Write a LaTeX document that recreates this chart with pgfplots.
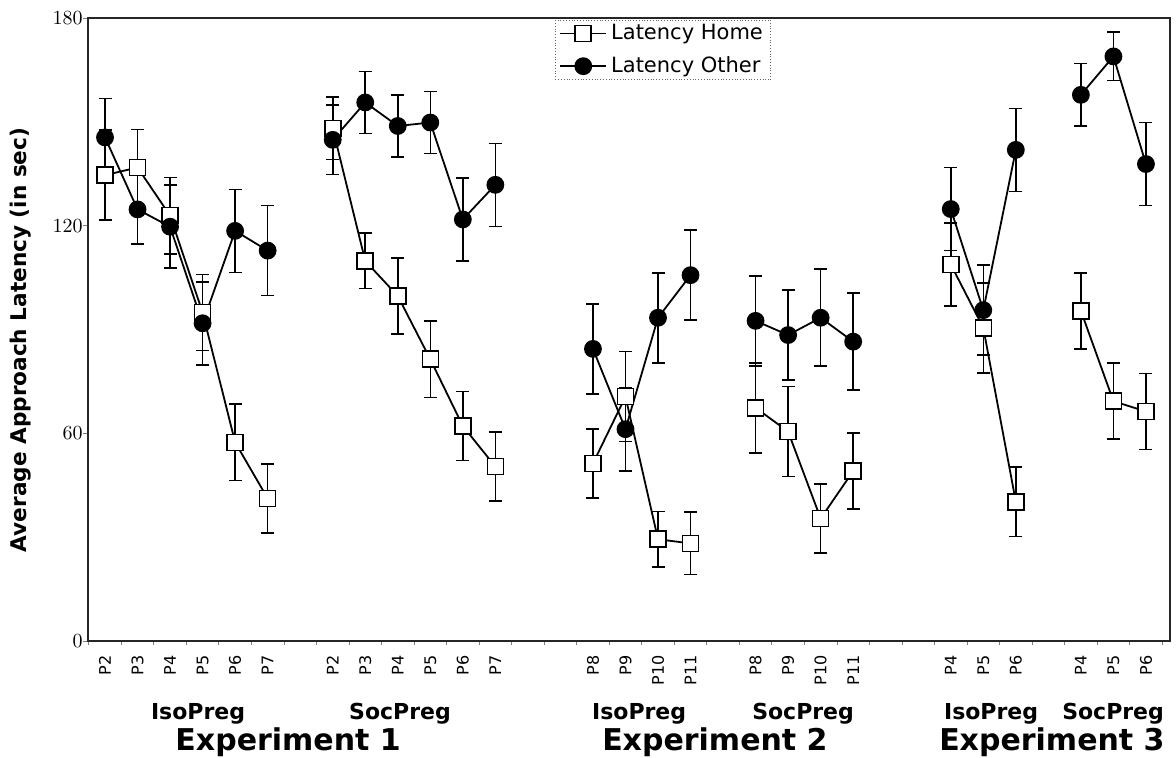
\documentclass[border=0pt]{standalone}
\usepackage{fontspec}
\setmainfont{DejaVu Sans}
\usepackage{pgfplots}
\usepackage{pgfplotstable}
\pgfplotsset{compat=1.18}

% mean latency and error per day, nan rows split the groups
\pgfplotstableread{
x  home  herr  other  oerr
0  134.6 13    145.5  11.3
1  136.8 11    124.7  10
2  122.9 11    119.7  12
3  94.9  11    91.8   12
4  57.4  11    118.5  12
5  41.2  10    112.8  13
6  nan   0     nan    0
7  148.1 9     144.8  10
8  109.8 8     155.6  9
9  99.7  11    148.8  9
10 81.4  11    149.8  9
11 62.1  10    121.8  12
12 50.4  10    131.8  12
13 nan   0     nan    0
15 51.3  10    84.4   13
16 70.6  13    61.2   12
17 29.4  8     93.4   13
18 28.2  9     105.7  13
19 nan   0     nan    0
20 67.4  13    92.5   13
21 60.5  13    88.4   13
22 35.4  10    93.4   14
23 49.1  11    86.5   14
24 nan   0     nan    0
26 108.8 12    124.8  12
27 90.5  13    95.6   13
28 40.2  10    141.9  12
29 nan   0     nan    0
30 95.4  11    157.8  9
31 69.3  11    168.9  7
32 66.3  11    137.8  12
}\latency

\begin{document}
\begin{tikzpicture}
\path[use as bounding box] (-44pt,-58pt) rectangle (544pt,320.5pt);
\begin{axis}[
  at={(0,0)}, anchor=south west,
  scale only axis, width=541pt, height=311.5pt,
  xmin=-0.523, xmax=32.74, ymin=0, ymax=180,
  clip=false,
  unbounded coords=jump,
  axis line style={black!85, line width=0.9pt},
  tick pos=left, tick align=outside,
  major tick length=2.5pt, minor tick length=2pt,
  ytick={0,60,120,180},
  yticklabel style={inner sep=0pt, xshift=0.5pt, font=\fontsize{10}{11}\selectfont},
  yticklabel shift=0.5pt,
  xtick={0,1,2,3,4,5,7,8,9,10,11,12,15,16,17,18,20,21,22,23,26,27,28,30,31,32},
  xticklabels={P2,P3,P4,P5,P6,P7,P2,P3,P4,P5,P6,P7,P8,P9,P10,P11,P8,P9,P10,P11,P4,P5,P6,P4,P5,P6},
  major x tick style={draw=none},
  minor xtick={-0.5,0.5,...,32.5},
  minor x tick style={black!50, line width=0.4pt},
  xticklabel style={rotate=90, anchor=east, inner sep=0pt, font=\fontsize{8}{9}\selectfont},
  xticklabel shift=4.5pt,
  legend style={at={(0.4316,0.9968)}, anchor=north west, draw=black!60, densely dotted,
    inner xsep=2pt, inner ysep=0pt, row sep=3pt,
    nodes={inner sep=2pt}, font=\fontsize{10.5}{12}\selectfont},
  legend cell align=left,
  legend image code/.code={\draw[mark repeat=2,mark phase=2,#1] plot coordinates {(0pt,0pt) (11.5pt,0pt) (23pt,0pt)};},
]
\addplot[solid, black, line width=0.9pt, mark=square*, mark size=4pt,
  mark options={solid, fill=white, draw=black, line width=0.8pt},
  error bars/.cd, y dir=both, y explicit,
  error bar style={solid, line width=0.8pt},
  error mark options={rotate=90, mark size=3.25pt, line width=0.8pt}]
  table[x=x, y=home, y error=herr] {\latency};
\addlegendentry{Latency Home}
\addplot[solid, black, line width=0.9pt, mark=*, mark size=4pt,
  mark options={solid, fill=black},
  error bars/.cd, y dir=both, y explicit,
  error bar style={solid, line width=0.8pt},
  error mark options={rotate=90, mark size=3.25pt, line width=0.8pt}]
  table[x=x, y=other, y error=oerr] {\latency};
\addlegendentry{Latency Other}

\node[rotate=90, font=\bfseries\fontsize{10.8}{13}\selectfont] at (axis cs:-2.58,87) {Average Approach Latency (in sec)};
\begin{scope}[every node/.style={anchor=base, font=\bfseries\fontsize{11}{13}\selectfont}]
\node at (axis cs:2.86,-22.8) {IsoPreg};
\node at (axis cs:9.07,-22.8) {SocPreg};
\node at (axis cs:16.42,-22.8) {IsoPreg};
\node at (axis cs:21.46,-22.8) {SocPreg};
\node at (axis cs:27.24,-22.8) {IsoPreg};
\node at (axis cs:30.99,-22.8) {SocPreg};
\end{scope}
\begin{scope}[every node/.style={anchor=base, font=\bfseries\fontsize{15}{18}\selectfont}]
\node at (axis cs:5.63,-31.5) {Experiment 1};
\node at (axis cs:18.75,-31.5) {Experiment 2};
\node at (axis cs:29.11,-31.5) {Experiment 3};
\end{scope}
\end{axis}
\end{tikzpicture}
\end{document}
